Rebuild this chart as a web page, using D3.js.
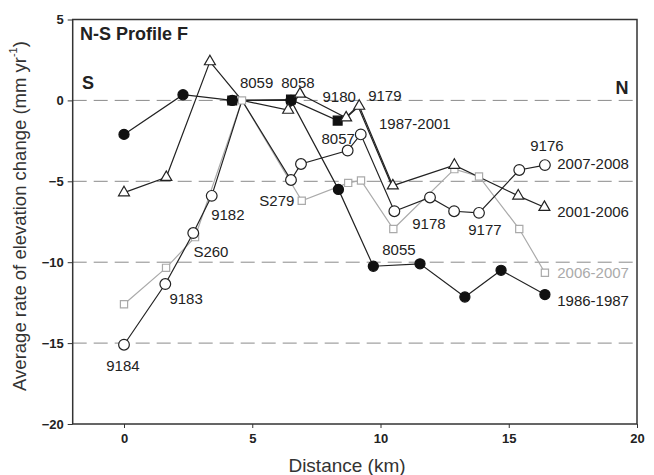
<!DOCTYPE html>
<html>
<head>
<meta charset="utf-8">
<script src="https://cdn.jsdelivr.net/npm/d3@7"></script>
<style>
    body { margin: 0; background: #fff; }
    svg { display: block; font-family: "Liberation Sans", Arial, sans-serif; }
    .tick text { font-weight: bold; font-size: 13px; fill: #222; }
    .tick line { stroke: #333; }
</style>
</head>
<body>
<div id="chart"></div>
<script>
(function () {
    "use strict";

    // station distance (km) / rate (mm/yr)
    const dist8687 = [0, 2.3, 4.22, 6.51, 8.36, 9.72, 11.54, 13.29, 14.7, 16.41];
    const rate8687 = [-2.1, 0.35, 0, 0, -5.5, -10.25, -10.1, -12.15, -10.5, -12.0];

    const dist8701 = [4.22, 6.51, 8.33, 8.62, 9.12, 10.45];
    const rate8701 = [0, 0.05, -1.25, -1.1, -0.35, -5.3];

    const dist0106 = [0, 1.65, 3.35, 4.6, 6.4, 6.86, 8.66, 9.17, 10.48, 12.88, 15.37, 16.39];
    const rate0106 = [-5.7, -4.75, 2.4, 0, -0.6, 0.4, -1.07, -0.35, -5.27, -4.0, -5.9, -6.6];

    const dist0607 = [0, 1.64, 2.77, 4.6, 6.93, 8.74, 9.24, 10.5, 12.88, 13.84, 15.41, 16.41];
    const rate0607 = [-12.6, -10.35, -8.45, 0, -6.2, -5.1, -4.95, -7.95, -4.25, -4.7, -7.95, -10.65];

    const dist0708 = [0, 1.61, 2.7, 3.42, 4.6, 6.51, 6.9, 8.72, 9.23, 10.54, 11.93, 12.87, 13.84, 15.41, 16.41];
    const rate0708 = [-15.1, -11.35, -8.2, -5.9, 0, -4.92, -3.93, -3.1, -2.1, -6.85, -6.0, -6.85, -6.95, -4.3, -4.0];

    // series labels and where they sit (data units)
    const seriesNames = ["2007-2008", "2001-2006", "2006-2007", "1986-1987", "1987-2001"];
    const seriesLabelDist = [16.89, 16.89, 16.89, 16.89, 9.94];
    const seriesLabelRate = [-3.92, -6.86, -10.64, -12.36, -1.41];

    // station names (label centre in data units)
    const stationNames = ["8059", "8058", "9180", "9179", "8057", "S279", "9182", "S260",
        "9183", "9184", "9178", "9177", "9176", "8055"];
    const stationDist = [5.17, 6.78, 8.39, 10.17, 8.35, 5.96, 4.05, 3.39,
        2.42, -0.04, 11.89, 14.07, 16.49, 10.72];
    const stationRate = [1.13, 1.13, 0.27, 0.31, -2.37, -6.2, -7.07, -9.36,
        -12.23, -16.39, -7.58, -8.0, -2.79, -9.24];

    const xTicks = [0, 5, 10, 15, 20];
    const yTicks = [-20, -15, -10, -5, 0, 5];
    const gridValues = [0, -5, -10, -15];

    const width = 654;
    const height = 475;

    const x = d3.scaleLinear().domain([-2, 20]).range([72.7, 637]);
    const y = d3.scaleLinear().domain([-20, 5]).range([424, 19.5]);

    const svg = d3.select("#chart").append("svg")
        .attr("width", width)
        .attr("height", height);

    const toPoints = (ds, rs) => ds.map((d, i) => [d, rs[i]]);

    const series = [
        { pts: toPoints(dist0607, rate0607), stroke: "#aaa", marker: "graySquare", bare: [] },
        { pts: toPoints(dist8687, rate8687), stroke: "#222", marker: "dot", bare: [] },
        { pts: toPoints(dist8701, rate8701), stroke: "#222", marker: "square", bare: [3, 4, 5] },
        { pts: toPoints(dist0106, rate0106), stroke: "#222", marker: "triangle", bare: [3] },
        { pts: toPoints(dist0708, rate0708), stroke: "#222", marker: "circle", bare: [4] }
    ];

    // dashed reference lines
    svg.selectAll("line.grid")
        .data(gridValues)
        .join("line")
        .attr("class", "grid")
        .attr("x1", x.range()[0])
        .attr("x2", x.range()[1])
        .attr("y1", d => y(d))
        .attr("y2", d => y(d))
        .attr("stroke", "#8a8a8a")
        .attr("stroke-width", 1)
        .attr("stroke-dasharray", "14,7");

    const line = d3.line().x(d => x(d[0])).y(d => y(d[1]));

    svg.selectAll("path.series")
        .data(series)
        .join("path")
        .attr("class", "series")
        .attr("d", d => line(d.pts))
        .attr("fill", "none")
        .attr("stroke", d => d.stroke)
        .attr("stroke-width", 1.2);

    const markerStyle = {
        graySquare: { type: d3.symbolSquare, size: 52, fill: "#fff", stroke: "#aaa" },
        dot: { type: d3.symbolCircle, size: 80, fill: "#111", stroke: "#111" },
        square: { type: d3.symbolSquare, size: 78, fill: "#111", stroke: "#111" },
        triangle: { type: d3.symbolTriangle, size: 52, fill: "#fff", stroke: "#222" },
        circle: { type: d3.symbolCircle, size: 90, fill: "#fff", stroke: "#222" }
    };

    series.forEach(s => {
        const st = markerStyle[s.marker];
        const pts = s.pts.filter((p, i) => !s.bare.includes(i));
        svg.append("g").selectAll("path")
            .data(pts)
            .join("path")
            .attr("transform", d => `translate(${x(d[0])},${y(d[1])})`)
            .attr("d", d3.symbol().type(st.type).size(st.size))
            .attr("fill", st.fill)
            .attr("stroke", st.stroke)
            .attr("stroke-width", 1.2);
    });

    // frame
    svg.append("rect")
        .attr("x", x.range()[0])
        .attr("y", y.range()[1])
        .attr("width", x.range()[1] - x.range()[0])
        .attr("height", y.range()[0] - y.range()[1])
        .attr("fill", "none")
        .attr("stroke", "#333")
        .attr("stroke-width", 1.5);

    svg.append("g")
        .attr("transform", `translate(0,${y.range()[0]})`)
        .call(d3.axisBottom(x).tickValues(xTicks).tickSize(4).tickPadding(6))
        .call(g => g.select(".domain").remove());

    svg.append("g")
        .attr("transform", `translate(${x.range()[0]},0)`)
        .call(d3.axisLeft(y).tickValues(yTicks).tickSize(5).tickPadding(4))
        .call(g => g.select(".domain").remove());

    // station names
    svg.append("g").selectAll("text")
        .data(stationNames)
        .join("text")
        .attr("x", (d, i) => x(stationDist[i]))
        .attr("y", (d, i) => y(stationRate[i]))
        .attr("text-anchor", "middle")
        .attr("dominant-baseline", "central")
        .attr("font-size", 15)
        .attr("fill", "#222")
        .text(d => d);

    // series names
    svg.append("g").selectAll("text")
        .data(seriesNames)
        .join("text")
        .attr("x", (d, i) => x(seriesLabelDist[i]))
        .attr("y", (d, i) => y(seriesLabelRate[i]))
        .attr("dominant-baseline", "central")
        .attr("font-size", 15)
        .attr("fill", d => d === "2006-2007" ? "#aaa" : "#222")
        .text(d => d);

    svg.append("text")
        .attr("x", 80)
        .attr("y", 34)
        .attr("dominant-baseline", "central")
        .attr("font-size", 18)
        .attr("font-weight", "bold")
        .attr("fill", "#222")
        .text("N-S Profile F");

    svg.append("text")
        .attr("x", 88)
        .attr("y", 83)
        .attr("text-anchor", "middle")
        .attr("dominant-baseline", "central")
        .attr("font-size", 18)
        .attr("font-weight", "bold")
        .attr("fill", "#222")
        .text("S");

    svg.append("text")
        .attr("x", 622)
        .attr("y", 88)
        .attr("text-anchor", "middle")
        .attr("dominant-baseline", "central")
        .attr("font-size", 18)
        .attr("font-weight", "bold")
        .attr("fill", "#222")
        .text("N");

    svg.append("text")
        .attr("x", 347)
        .attr("y", 465)
        .attr("text-anchor", "middle")
        .attr("dominant-baseline", "central")
        .attr("font-size", 19)
        .attr("fill", "#333")
        .text("Distance (km)");

    const yLabel = svg.append("text")
        .attr("transform", "translate(19,216) rotate(-90)")
        .attr("text-anchor", "middle")
        .attr("dominant-baseline", "central")
        .attr("font-size", 18.5)
        .attr("fill", "#333");
    yLabel.append("tspan").text("Average rate of elevation change (mm yr");
    yLabel.append("tspan").attr("baseline-shift", "super").attr("font-size", 11).text("-1");
    yLabel.append("tspan").text(")");
}());
</script>
</body>
</html>
